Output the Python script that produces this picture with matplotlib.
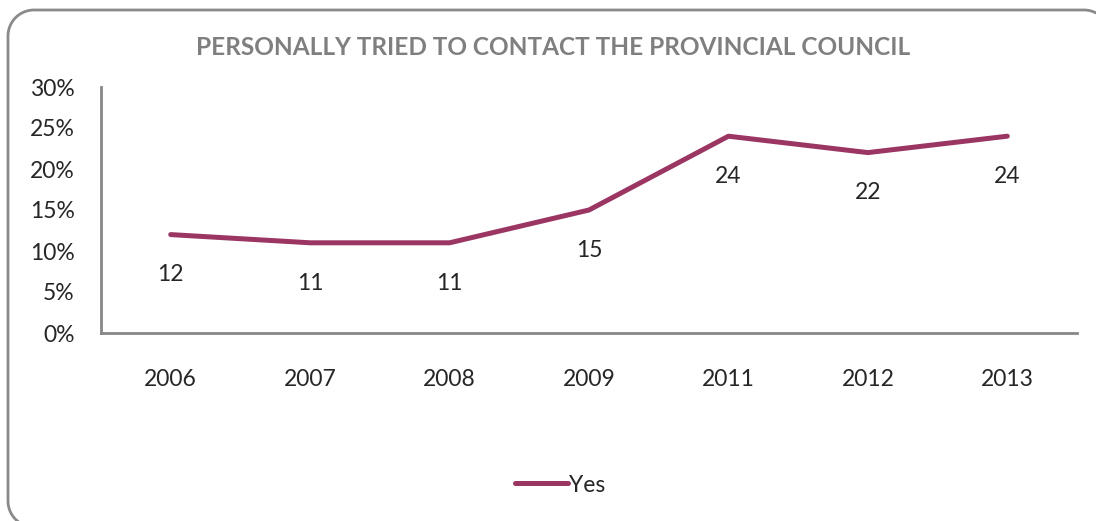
import matplotlib
matplotlib.use("Agg")
import matplotlib.pyplot as plt
import numpy as np
from matplotlib.ticker import FuncFormatter

years = ["2006", "2007", "2008", "2009", "2011", "2012", "2013"]
yes_values = [12, 11, 11, 15, 24, 22, 24]
series_name = "Yes"
title = "PERSONALLY TRIED TO CONTACT THE PROVINCIAL COUNCIL"

plt.rcParams['font.family'] = ['Lato', 'DejaVu Sans']

W, H = 1096, 521
fig = plt.figure(figsize=(W / 100, H / 100), dpi=100)

# overlay in pixel coordinates for the rounded outer frame
bg = fig.add_axes([0, 0, 1, 1])
bg.set_xlim(0, W)
bg.set_ylim(H, 0)
bg.axis("off")
r = 26
left, top, right, bottom = 8, 10, 1110, 527
def arc(cx, cy, a0, a1):
    t = np.radians(np.linspace(a0, a1, 30))
    return cx + r * np.cos(t), cy + r * np.sin(t)
xs, ys = [], []
for seg in [arc(left + r, bottom - r, 180, 90),
            arc(left + r, top + r, 180, 270),
            arc(right - r, top + r, 270, 360)]:
    xs.extend(seg[0]); ys.extend(seg[1])
# order: bottom-left arc goes from left edge downward; reverse to build a continuous path
bl = arc(left + r, bottom - r, 90, 180)
tl = arc(left + r, top + r, 180, 270)
tr = arc(right - r, top + r, 270, 360)
px = np.concatenate([bl[0], tl[0], tr[0]])
py = np.concatenate([bl[1], tl[1], tr[1]])
bg.plot(px, py, color="#8a8a8a", linewidth=2.0, clip_on=False)

ax = fig.add_axes([101 / W, (H - 333) / H, (1077 - 101) / W, (333 - 87) / H])
ax.patch.set_alpha(0)
line_color = "#9b3663"
x = list(range(len(years)))
ax.plot(x, yes_values, color=line_color, linewidth=3.6, solid_capstyle="round",
        label=series_name)
for xi, v in zip(x, yes_values):
    ax.annotate(str(v), (xi, v), xytext=(0, -29), textcoords="offset points",
                ha="center", va="center", fontsize=16.5, color="#262626")

ax.set_xlim(-0.5, len(years) - 0.5)
ax.set_ylim(0, 30)
ax.set_yticks(range(0, 31, 5))
ax.yaxis.set_major_formatter(FuncFormatter(lambda v, p: f"{int(v)}%"))
ax.set_xticks(x)
ax.set_xticklabels(years)
ax.tick_params(axis="both", length=0, labelsize=16.5, labelcolor="#262626")
ax.tick_params(axis="y", pad=19)
ax.tick_params(axis="x", pad=26)
for s in ["top", "right"]:
    ax.spines[s].set_visible(False)
for s in ["left", "bottom"]:
    ax.spines[s].set_color("#878787")
    ax.spines[s].set_linewidth(2.0)

fig.text(553 / W, 1 - 47 / H, title, ha="center", va="center",
         fontsize=17.6, fontweight="bold", color="#7f7f7f")

fig.legend(loc="center", bbox_to_anchor=(560 / W, 1 - 485 / H), frameon=False,
           fontsize=16.5, handlelength=2.3, handletextpad=0.05,
           labelcolor="#262626")

fig.savefig("out.png", dpi=100)
